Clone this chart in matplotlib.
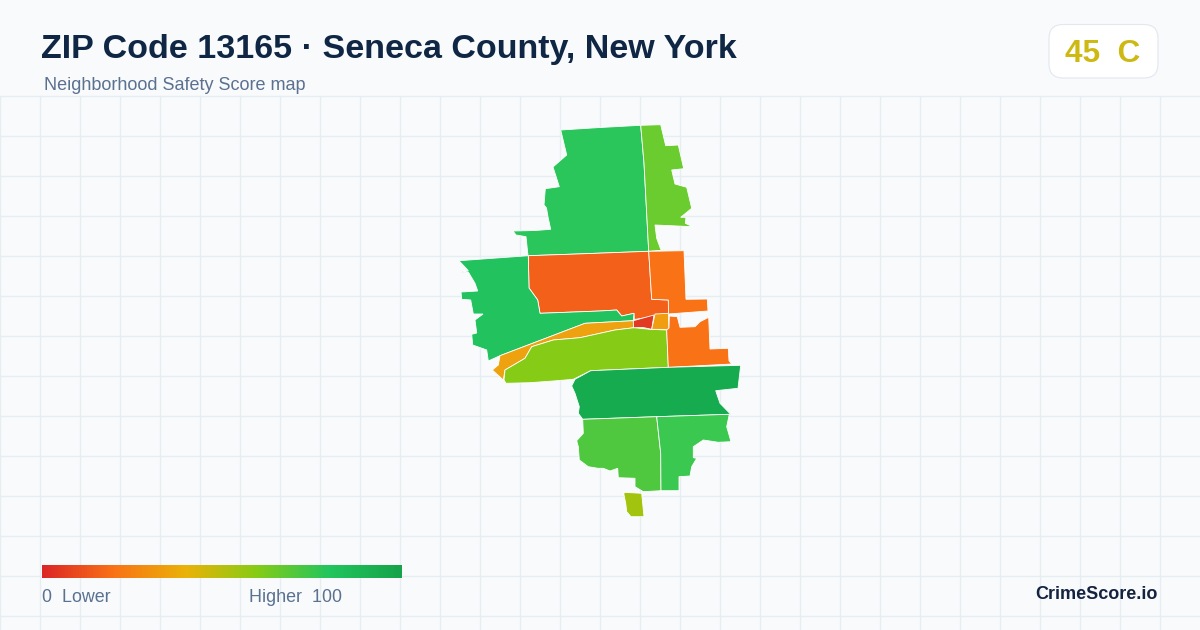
import numpy as np
import matplotlib
matplotlib.use("Agg")
import matplotlib.pyplot as plt
from matplotlib.colors import LinearSegmentedColormap
from matplotlib.patches import FancyBboxPatch, Polygon

plt.rcParams["font.family"] = ["Liberation Sans", "DejaVu Sans"]

TITLE = "ZIP Code 13165 · Seneca County, New York"
SUBTITLE = "Neighborhood Safety Score map"
BADGE_TEXT = "45  C"
BRAND = "CrimeScore.io"

# tract outlines in image pixels
north_tract = [(560.7, 130), (600, 127.5), (640.7, 125.3), (644, 163), (648.7, 251.3), (577, 254), (528, 255.7),
               (526, 236.7), (516, 235), (513, 231), (535, 230.5), (550.7, 229.3), (548, 217), (546.5, 208),
               (544, 205), (545.3, 188.7), (559.3, 186.7), (553, 167), (566.7, 155)]
northeast_tract = [(640.7, 125.3), (660.7, 124.7), (665.7, 145.7), (678.3, 145), (683.7, 168.7), (671.7, 170),
                   (675, 184), (686.7, 187.3), (691.7, 208.3), (680.7, 217.3), (686, 217.3), (685.3, 223.3),
                   (692.7, 226.7), (655, 225), (656.7, 238.3), (660.7, 249.3), (665, 250), (648.7, 251.3), (644, 163)]
center_tract = [(528.3, 255.7), (577, 254), (648.7, 251.3), (651.7, 299.3), (668.3, 300), (668.7, 314),
                (634.3, 319.5), (634, 313.3), (621.7, 316), (616.7, 310), (600, 311), (540, 313.3),
                (537.7, 300), (529, 288)]
east_tract = [(648.7, 251.3), (684, 250.7), (686, 299.3), (707.3, 299), (708, 311), (668.5, 314), (668.3, 300),
              (651.7, 299.3)]
west_tract = [(459, 260.7), (528.3, 255.7), (529, 288), (537.7, 300), (540, 313.3), (600, 311), (616.7, 310),
              (621.7, 316), (634, 313.3), (633.3, 320.7), (585, 323.3), (500, 355.7), (488.3, 361),
              (486.7, 350), (472.7, 345), (471.7, 334.3), (476.7, 333), (475, 320), (483, 314), (473.3, 314),
              (470.7, 300), (461.7, 299.3), (461, 292), (477.7, 291), (475, 283.3), (468.3, 272), (460, 272.3),
              (468.3, 270.7)]
strip_tract = [(500, 355.7), (585, 323.3), (633.3, 320.7), (634, 327.7), (615, 330), (580, 337.7), (553.3, 340),
               (531.7, 346.7), (525, 358.3), (505, 370), (503.3, 380), (492.3, 370), (498.3, 365)]
lake_tract = [(505, 370), (525, 358.3), (531.7, 346.7), (553.3, 340), (580, 337.7), (615, 330), (634, 327.7),
              (650, 329.3), (666.7, 330), (668.3, 367.3), (630, 369), (590.7, 370.7), (573.3, 379.3),
              (553.3, 381), (530, 382.7), (506, 383.3), (504, 380)]
red_tract = [(633.3, 320.7), (654, 315), (651.7, 329.3), (643, 327.5), (633.5, 327.7)]
amber_tract = [(655, 314), (668.3, 313.3), (669, 329.5), (651.7, 329.3)]
southeast_orange = [(669.3, 316), (677.3, 316.7), (680, 327.3), (695, 326.7), (700, 321.7), (708.7, 317.3),
                    (710, 349), (728.3, 348.3), (729, 360.7), (731.7, 364), (670, 367.3), (668.3, 367.3),
                    (666.7, 330), (669, 328)]
band_tract = [(590.7, 370.7), (668.7, 367.3), (740.7, 365.3), (738, 388.3), (715.7, 390.7), (720, 403.3),
              (730.7, 414.3), (656.7, 416.7), (582.7, 419.3), (578.3, 413.3), (579.3, 406.7), (575, 393.3),
              (571.7, 386), (575, 379.3)]
southwest_tract = [(582.7, 419.3), (656.7, 416.7), (660.7, 453.3), (661, 490.7), (643.3, 491.7), (635, 486.7),
                   (635, 478.3), (618.3, 477.7), (617.7, 468.3), (610, 471), (603.3, 468.3), (598, 468.3),
                   (588.3, 466.7), (579.3, 460), (578.3, 446.7), (576.7, 440.7), (583.3, 433.3)]
southeast_tract = [(656.7, 416.7), (729.3, 414.3), (726.7, 426.7), (731, 441.7), (718.3, 442.3), (703.3, 440),
                   (693.3, 446.7), (693.3, 457.7), (696.7, 458.3), (691.7, 466.7), (690, 476), (679, 476.7),
                   (679, 490.7), (661, 490.7), (660.7, 453.3)]
south_tract = [(624, 492.3), (641.7, 493.3), (644, 516.7), (631, 516.7), (626.7, 511.7), (625.7, 503.3), (624, 495)]

tracts = [north_tract, northeast_tract, center_tract, east_tract, west_tract, strip_tract, lake_tract, red_tract,
          amber_tract, southeast_orange, band_tract, southwest_tract, southeast_tract, south_tract]
tract_colors = ["#2ac65c", "#6acc2e", "#f2601a", "#f97316", "#22c35f", "#eea20f", "#86cc16", "#e23a22",
                "#f09d10", "#f97316", "#17ab50", "#4fc83f", "#3bc850", "#a3c40e"]

legend_stops = [0.0, 0.2, 0.4, 0.6, 0.8, 1.0]
legend_colors = ["#dc2626", "#f97316", "#eab308", "#84cc16", "#22c55e", "#16a34a"]

fig = plt.figure(figsize=(12, 6.3), dpi=100, facecolor="#f8fafc")
ax = fig.add_axes([0, 0, 1, 1])
ax.set_xlim(0, 1200)
ax.set_ylim(630, 0)
ax.axis("off")

# background grid
for x in range(0, 1200, 40):
    ax.plot([x, x], [96, 630], color="#e6eef2", lw=0.9, zorder=1)
for y in range(96, 630, 40):
    ax.plot([0, 1200], [y, y], color="#e6eef2", lw=0.9, zorder=1)

for outline, color in zip(tracts, tract_colors):
    ax.add_patch(Polygon(outline, closed=True, facecolor=color, edgecolor="white", lw=0.6, zorder=2))

ax.text(41, 49.5, TITLE, fontsize=24.46, fontweight="bold", color="#0f2744", va="center", ha="left")
ax.text(44, 86, SUBTITLE, fontsize=12.95, color="#5a7190", va="center", ha="left")

# score badge
ax.add_patch(FancyBboxPatch((1049, 24.5), 109, 53.5, boxstyle="round,pad=0,rounding_size=14",
                            facecolor="white", edgecolor="#e2e8f0", lw=0.8, zorder=3))
ax.text(1103, 53.5, BADGE_TEXT, fontsize=22.7, fontweight="bold", color="#cdb912", va="center", ha="center", zorder=4)

# colour legend
cmap = LinearSegmentedColormap.from_list("score", list(zip(legend_stops, legend_colors)))
ramp = np.linspace(0, 1, 360).reshape(1, -1)
ax.imshow(ramp, cmap=cmap, extent=(42, 402, 578, 565), aspect="auto", zorder=3)
ax.set_xlim(0, 1200)
ax.set_ylim(630, 0)

ax.text(42, 598, "0  Lower", fontsize=12.85, color="#5a7190", va="center", ha="left")
ax.text(249, 598, "Higher  100", fontsize=12.85, color="#5a7190", va="center", ha="left")
ax.text(1158, 594.5, BRAND, fontsize=13.0, fontweight="bold", color="#14233f", va="center", ha="right")

fig.savefig("out.png", dpi=100, facecolor=fig.get_facecolor())
